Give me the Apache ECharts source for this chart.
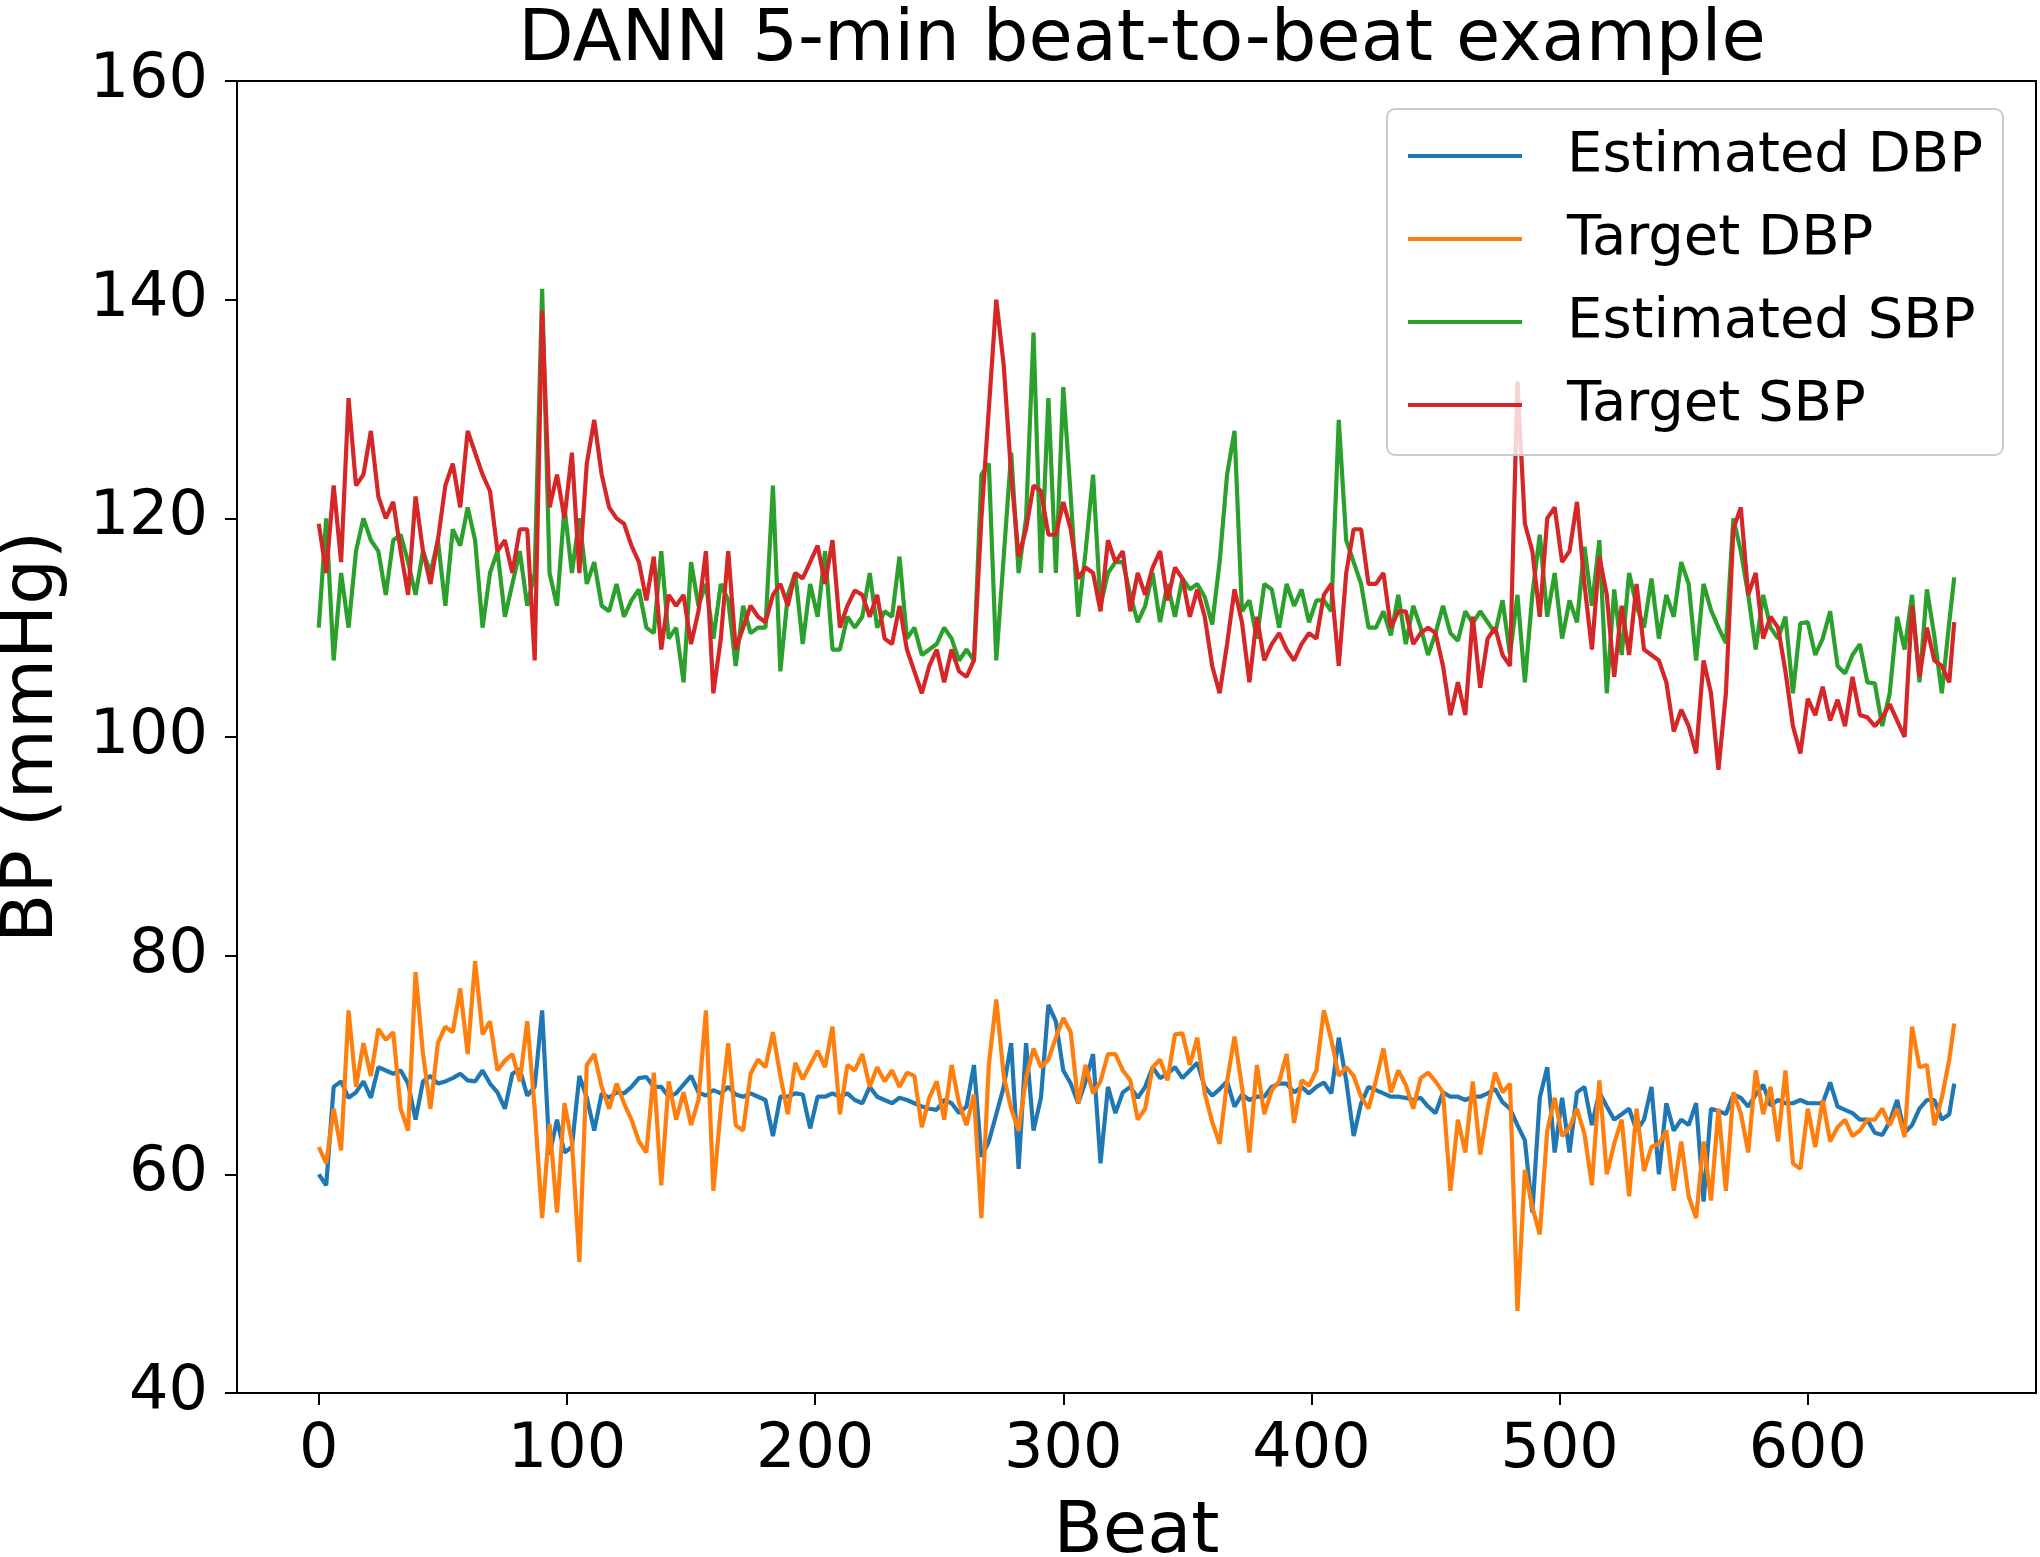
<!DOCTYPE html>
<html>
<head>
<meta charset="utf-8">
<script src="https://cdn.jsdelivr.net/npm/echarts@6/dist/echarts.min.js"></script>
<style>
html,body{margin:0;padding:0;background:#fff;}
#chart{width:2040px;height:1557px;}
</style>
</head>
<body>
<div id="chart"></div>
<script>
// Beat sampling: every 3rd beat, last sample is beat 659
const BEAT_STEP = 3;
const LAST_BEAT = 659;

const xTicks = [0, 100, 200, 300, 400, 500, 600];
const seriesNames = ["Estimated DBP", "Target DBP", "Estimated SBP", "Target SBP"];

const estimatedDBP = [
60,59,68,68.5,67,67.5,68.5,67,69.8,69.5,69.2,69.5,68.3,65,68.5,69,68.3,68.5,68.8,69.2,68.6,68.5,69.5,68.3,67.5,66,69.2,69.6,67.2,68,75,61.8,65,62,62.5,69,67,64,
67.4,67,67.5,67.4,68,68.8,68.9,68,68,67.1,67.4,68.2,69,67.5,67.2,67.7,67.4,68,67.3,67.1,67.4,67.1,66.8,63.5,67.1,67.1,67.4,67.3,64.2,67.1,67.1,67.4,67.1,67.4,66.8,66.5,68,
67.1,66.8,66.5,67,66.8,66.5,66.2,66,65.9,66.8,66.5,65.6,66.2,70,61.6,63,65.5,68,72,60.5,72,64,67,75.5,74,69.5,68.3,66.5,68.5,71,61,68,65.6,67.5,68,67,68,
69.8,68.8,69.2,69.8,68.8,69.5,70.2,68,67.2,67.8,68.5,66.2,67.3,66.8,67.1,67.1,68,68.3,68.3,67.5,68,67.4,68,68.4,67.4,72.5,68.6,63.5,66.5,68,67.7,67.4,67.1,67.1,67,66.8,67,
66.2,65.6,67.5,67.1,67.1,66.8,67.1,67.1,67.4,67.8,66.6,66,64.5,63.1,56.5,67,69.8,62,67,62,67.5,68,64.5,67.5,66.2,65,65.5,66,64,65,68,60,66.5,64,65,64.5,66.5,
57.5,66,65.8,65.5,67.3,67,66.2,67.3,68.2,66.3,66.8,66.5,66.5,66.8,66.5,66.5,66.5,68.4,66.2,65.9,65.6,65,65,63.8,63.6,64.8,66.8,63.8,64.5,66,66.8,66.8,65,65.5,68.3
];

const targetDBP = [
62.5,61,66,62.2,75,68,72,69,73.3,72.3,73,66,64,78.5,71,66,72,73.5,73,77,71,79.5,72.8,74,69.5,70.4,71,68.5,74,66,56,64.6,56.5,66.5,63,52,70,71,
68,66,68.3,66.5,65,63,62,69.3,59,68.5,65,67.5,64.5,66.8,75,58.5,66,72,64.5,64,69.2,70.5,69.8,73,69,65.5,70.2,68.7,70,71.3,69.8,73.5,65.5,70,69.5,71,68,
69.8,68.5,69.5,68,69.3,69,64.3,67,68.5,65,70,66.5,64.5,67.3,56,70,76,69,66,64,68.8,71.5,69.8,70.5,72.5,74.3,73,66.5,70,67.4,68.5,71,71,69.5,68.6,65,66,
69.8,70.5,68.6,72.8,72.9,70,72.5,67.4,64.8,62.8,68.5,72.6,68,62,70,65.5,67.7,68.5,71,64.7,68.6,68.1,69.5,75,72.3,69,69.8,69,67.1,66,68.6,71.5,67.5,69.5,68.2,66,68.8,
69.3,68.5,67.5,58.5,65,62,68.5,61.8,66,69.3,67.5,68.3,47.5,60.4,57,54.5,64,67,63.5,64.3,66,63.7,59,68.6,60,62.8,65,58,66,60.3,62.5,62.8,64,58.5,63,58,56,
63,57.6,66,58.5,67.5,65.6,62,69.5,65.5,68,63,69.5,61,60.5,66,62.5,66.8,63,64.3,65,63.5,64,65,65,66,64.5,66,63.4,73.5,69.8,70,64.5,67,70.5,73.8
];

const estimatedSBP = [
110,120,107,115,110,117,120,118,117,113,118,118.5,116,113,117,115,118,112,119,117.5,121,118,110,115,117,111,114,117,112,115,141,115,112,121,115,120,114,116,
112,111.5,114,111,112.5,113.5,110,109.5,117,109,110,105,116,112,114,109,114,112.5,106.5,112,109.5,110,110,123,106,113,115,108.5,114,111,117,108,108,111,110,111,115,
110,111.5,111,116.5,109,110,107.5,108,108.5,110,109,107,108,107,124,125,107,116.5,126,115,120,137,115,131,115,132,122,111,117,124,112,115,116,116,113,110.5,112,
115,110.5,114,111,114.5,113.5,114,112.8,110.3,116,124,128,111.5,112.5,109,114,113.5,110,114,112,113.5,110.5,112.5,112.5,111.5,129,118,116,114,110,110,111.5,109.3,113,108.5,112,110,
107.5,109.5,112,109.5,108.8,111.5,110.4,111.5,110.5,109.5,112.5,107.5,113,105,113,118.5,111,115,109,112.5,110.5,117.4,112,118,104,113.5,107.5,115,112,110,114.5,109,113,111,116,114,107,
114,111.6,110,108.6,120,117,113,108,113,110,109,111,104,110.4,110.5,107.5,109,111.5,106.5,105.8,107.5,108.5,105,104.9,101,104,111,108,113,105,113.5,109.2,104,110.5,114.6
];

const targetSBP = [
119.5,115,123,116,131,123,124,128,122,120,121.5,117,113,122,117,114,118,123,125,121,128,126,124,122.5,117,118,115,119,119,107,139,121,124,120,126,115,125,129,
124,121,120,119.5,117.5,116,112.5,116.5,108,113,112,113,108.5,111.5,117,104,109,117,108,110,112,111,110.5,113,114,112,115,114.5,116,117.5,114,118,110,112,113.4,113,111,
113,109,108.5,112,108,106,104,106.5,108,105,108,106,105.5,107,120,130,140,134,124,116.5,119,123,122.5,118.5,118.5,121.5,119,114.5,115.5,115,111.5,118,116,117,111.5,115,113,
115.5,117,112.5,115.5,114.5,111,113.5,111,106.5,104,108.5,113.5,110.5,105,111,107,108.5,109.5,108,107,108.5,109.5,109,113,114,106.5,115,119,119,114,114,115,110,111.5,111.5,108.5,109.5,
110,109.5,106.5,102,105,102,111,104.5,109,110,107.5,106.5,132.5,119.5,117,111,120,121,116,117,121.5,114,108,116.5,113,105.5,112,107.5,114,108,107.5,107,105,100.5,102.5,101,98.5,
107,104,97,104,119,121,113,115,109,111,110,106,101,98.5,103.5,102,104.6,101.5,103.4,101,105.5,102,101.8,101,101.8,103,101.5,100,112,105.5,110,107,106.5,105,110.5
];

function toPoints(vals) {
  return vals.map((v, i) => [i === vals.length - 1 ? LAST_BEAT : i * BEAT_STEP, v]);
}

const colors = ["#1f77b4", "#ff7f0e", "#2ca02c", "#d62728"];
const allSeries = [estimatedDBP, targetDBP, estimatedSBP, targetSBP];
const FONT = "DejaVu Sans";

const chart = echarts.init(document.getElementById("chart"), null, {renderer: "canvas"});
chart.setOption({
  animation: false,
  backgroundColor: "#ffffff",
  textStyle: {fontFamily: FONT},
  title: {
    text: "DANN 5-min beat-to-beat example",
    left: 1137, top: 0, textAlign: "center",
    textStyle: {fontFamily: FONT, fontSize: 72, fontWeight: "normal", color: "#000"}
  },
  grid: {
    left: 237, right: 4, top: 81, bottom: 164,
    containLabel: false,
    outerBoundsMode: "none",
    show: true, borderColor: "#000", borderWidth: 2, backgroundColor: "transparent"
  },
  legend: {
    orient: "vertical",
    left: 1387, top: 109,
    padding: [17, 20, 20, 21],
    itemGap: 23,
    itemWidth: 114, itemHeight: 4,
    icon: "rect",
    backgroundColor: "rgba(255,255,255,0.8)",
    borderColor: "#cccccc", borderWidth: 2, borderRadius: 8,
    textStyle: {fontFamily: FONT, fontSize: 56, color: "#000", lineHeight: 60, padding: [0, 0, 0, 40]},
    data: seriesNames
  },
  xAxis: {
    type: "value",
    min: -32.95, max: 691.95,
    name: "Beat", nameLocation: "middle", nameGap: 104,
    nameTextStyle: {fontFamily: FONT, fontSize: 72, color: "#000"},
    axisLine: {show: true, onZero: false, lineStyle: {color: "#000", width: 2}},
    axisTick: {show: true, length: 12, lineStyle: {color: "#000", width: 2}, customValues: xTicks},
    axisLabel: {show: true, margin: 27, fontFamily: FONT, fontSize: 62, color: "#000", customValues: xTicks},
    splitLine: {show: false}
  },
  yAxis: {
    type: "value",
    min: 40, max: 160, interval: 20,
    name: "BP (mmHg)", nameLocation: "middle", nameRotate: 90, nameGap: 168,
    nameTextStyle: {fontFamily: FONT, fontSize: 72, color: "#000"},
    axisLine: {show: true, onZero: false, lineStyle: {color: "#000", width: 2}},
    axisTick: {show: true, length: 12, lineStyle: {color: "#000", width: 2}},
    axisLabel: {show: true, margin: 29, fontFamily: FONT, fontSize: 62, color: "#000"},
    splitLine: {show: false}
  },
  series: allSeries.map((vals, k) => ({
    name: seriesNames[k],
    type: "line",
    data: toPoints(vals),
    symbol: "none",
    showSymbol: false,
    color: colors[k],
    lineStyle: {color: colors[k], width: 4.2},
    itemStyle: {color: colors[k]},
    emphasis: {disabled: true}
  }))
});
</script>
</body>
</html>
